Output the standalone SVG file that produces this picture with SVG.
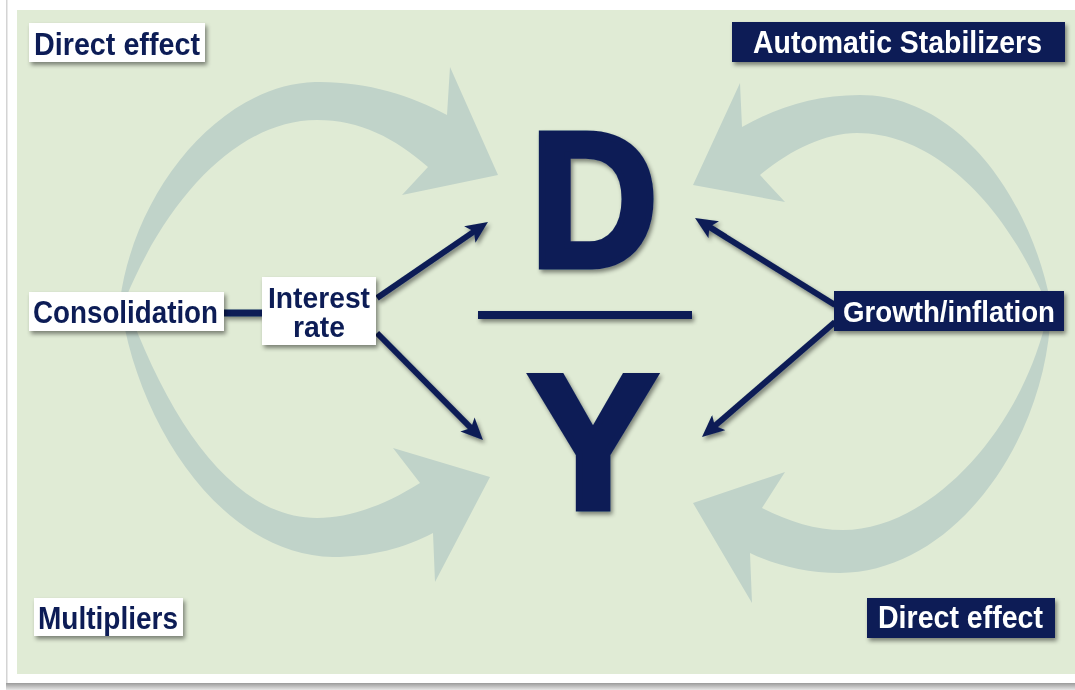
<svg xmlns="http://www.w3.org/2000/svg" width="1075" height="690" viewBox="0 0 1075 690">
  <defs>
    <style>
      .panel { fill: #e0ebd5; }
      .swoosh { fill: #c0d3c9; }
      .navy { fill: #0c1f56; }
      .box-light { fill: #ffffff; }
      .box-dark { fill: #0c1f56; }
      .lbl { font-family: "Liberation Sans", Arial, sans-serif; font-weight: bold; font-size: 31px; }
      .lbl-small { font-size: 29px; }
      .lbl-dark { fill: #0c1f56; }
      .lbl-light { fill: #ffffff; }
      .big { font-family: "Liberation Sans", Arial, sans-serif; font-weight: bold; font-size: 192px; fill: #0c1f56; stroke: #0c1f56; stroke-width: 7; stroke-linejoin: miter; text-anchor: middle; }
      .link { stroke: #0c1f56; stroke-width: 6; fill: none; }
    </style>
    <filter id="shadow" x="-20%" y="-30%" width="140%" height="180%">
      <feDropShadow dx="2" dy="3" stdDeviation="2" flood-color="#000000" flood-opacity="0.45"/>
    </filter>
    <linearGradient id="cardShadow" x1="0" y1="0" x2="0" y2="1">
      <stop offset="0" stop-color="#9a9a9a"/>
      <stop offset="1" stop-color="#e6e6e6"/>
    </linearGradient>
    <marker id="head" viewBox="0 0 22 20" refX="8" refY="10" markerWidth="22" markerHeight="20" markerUnits="userSpaceOnUse" orient="auto">
      <path d="M0,0 L22,10 L0,20 L5,10 Z" fill="#0c1f56"/>
    </marker>
  </defs>

  <!-- card and panel -->
  <rect x="0" y="0" width="1075" height="690" fill="#ffffff"/>
  <rect x="6" y="0" width="1.5" height="684" fill="#d4d4d4"/>
  <rect x="6" y="683" width="1069" height="7" fill="url(#cardShadow)"/>
  <rect class="panel" x="17" y="10" width="1070" height="664"/>

  <!-- large background swooshes -->
  <g id="swooshes">
    <path class="swoosh" d="M120,300 C135,190 220,85 315,82 C365,81 410,95 447,115 L450,67 L498,175 L402,195 L428,167 C395,138 360,120 317,120 C240,120 168,195 125,300 Z"/>
    <path class="swoosh" d="M120,300 C135,420 220,555 333,557 C370,557 405,548 433,533 L435,582 L490,477 L393,448 L420,483 C385,505 350,518 317,518 C235,518 170,425 125,300 Z"/>
    <path class="swoosh" d="M1050,300 C1030,200 960,95 860,95 C815,95 775,108 742,127 L740,83 L693,185 L785,202 L760,175 C790,150 825,133 857,133 C935,133 1005,205 1045,300 Z"/>
    <path class="swoosh" d="M1050,325 C1040,450 950,572 840,573 C805,573 775,565 750,553 L752,603 L693,503 L785,472 L762,508 C790,522 815,530 843,530 C925,530 1015,440 1045,325 Z"/>
  </g>

  <!-- D over Y -->
  <g id="ratio" filter="url(#shadow)">
    <text class="big" x="594" y="266" transform="translate(594,0) scale(0.92,1) translate(-594,0)">D</text>
    <rect class="navy" x="478" y="311" width="214" height="8"/>
    <text class="big" x="593" y="508">Y</text>
  </g>

  <!-- connectors -->
  <g id="connectors" filter="url(#shadow)">
    <line class="link" x1="224" y1="313" x2="262" y2="313" style="stroke-width:7"/>
    <line class="link" x1="377" y1="298" x2="476.4" y2="229.9" marker-end="url(#head)"/>
    <line class="link" x1="377" y1="333" x2="473.1" y2="430.1" marker-end="url(#head)"/>
    <line class="link" x1="835" y1="305" x2="706.9" y2="225.4" marker-end="url(#head)"/>
    <line class="link" x1="835" y1="322" x2="712.6" y2="427.8" marker-end="url(#head)"/>
  </g>

  <!-- labels -->
  <g id="direct-effect-left" filter="url(#shadow)">
    <rect class="box-light" x="29" y="23" width="176" height="39"/>
    <text class="lbl lbl-dark" x="34" y="55" textLength="166" lengthAdjust="spacingAndGlyphs">Direct effect</text>
  </g>
  <g id="automatic-stabilizers" filter="url(#shadow)">
    <rect class="box-dark" x="732" y="22" width="333" height="40"/>
    <text class="lbl lbl-light" x="753" y="53" textLength="289" lengthAdjust="spacingAndGlyphs">Automatic Stabilizers</text>
  </g>
  <g id="consolidation" filter="url(#shadow)">
    <rect class="box-light" x="29" y="292" width="195" height="39"/>
    <text class="lbl lbl-dark" x="33" y="323" textLength="185" lengthAdjust="spacingAndGlyphs">Consolidation</text>
  </g>
  <g id="interest-rate" filter="url(#shadow)">
    <rect class="box-light" x="262" y="277" width="114" height="68"/>
    <text class="lbl lbl-small lbl-dark" x="319" y="308" text-anchor="middle" textLength="102" lengthAdjust="spacingAndGlyphs">Interest</text>
    <text class="lbl lbl-small lbl-dark" x="319" y="337" text-anchor="middle" textLength="52" lengthAdjust="spacingAndGlyphs">rate</text>
  </g>
  <g id="growth-inflation" filter="url(#shadow)">
    <rect class="box-dark" x="834" y="291" width="230" height="40"/>
    <text class="lbl lbl-light" x="949" y="322" text-anchor="middle" style="font-size:30px" textLength="212" lengthAdjust="spacingAndGlyphs">Growth/inflation</text>
  </g>
  <g id="multipliers" filter="url(#shadow)">
    <rect class="box-light" x="34" y="598" width="149" height="38"/>
    <text class="lbl lbl-dark" x="38" y="629" textLength="140" lengthAdjust="spacingAndGlyphs">Multipliers</text>
  </g>
  <g id="direct-effect-right" filter="url(#shadow)">
    <rect class="box-dark" x="867" y="598" width="188" height="40"/>
    <text class="lbl lbl-light" x="878" y="628" textLength="165" lengthAdjust="spacingAndGlyphs">Direct effect</text>
  </g>
</svg>
